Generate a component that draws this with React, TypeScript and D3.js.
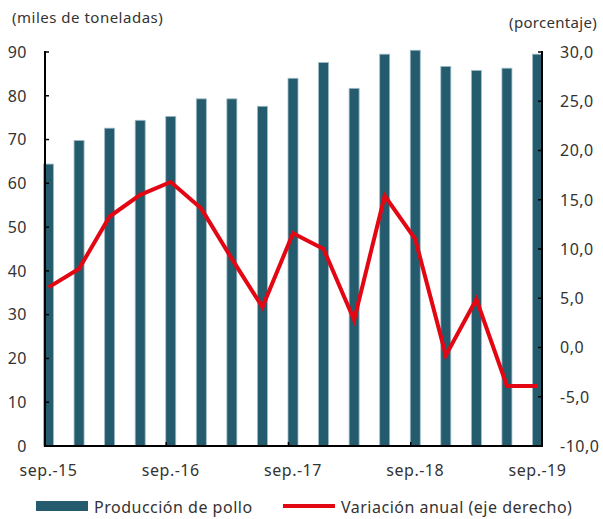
import React from "react";
import * as d3 from "d3";

const categories = ["sep.-15","dic.-15","mar.-16","jun.-16","sep.-16","dic.-16","mar.-17","jun.-17","sep.-17","dic.-17","mar.-18","jun.-18","sep.-18","dic.-18","mar.-19","jun.-19","sep.-19"];
const produccion = [64.4, 69.8, 72.6, 74.4, 75.3, 79.3, 79.3, 77.6, 84.0, 87.6, 81.7, 89.5, 90.4, 86.7, 85.8, 86.3, 89.5];
const variacion = [6.1, 8.0, 13.3, 15.5, 16.8, 14.1, 9.0, 4.1, 11.6, 10.0, 2.8, 15.4, 11.0, -0.8, 4.9, -3.9, -3.9];
const leftTicks = [0, 10, 20, 30, 40, 50, 60, 70, 80, 90];
const rightTicks = [-10, -5, 0, 5, 10, 15, 20, 25, 30];
const xLabelIdx = [0, 4, 8, 12, 16];

const W = 603, H = 519;
const axL = 45, axR = 542, yTop = 52, yBot = 446;
const BAR = "#245c6e";
const RED = "#e30613";
const TXT = "#333333";
const FONT = "'Noto Sans', sans-serif";

export default function App() {
  const x = d3.scalePoint<number>().domain(d3.range(categories.length)).range([48.5, 537.5]);
  const yL = d3.scaleLinear().domain([0, 90]).range([yBot, yTop]);
  const yR = d3.scaleLinear().domain([-10, 30]).range([yBot, yTop]);
  const bw = 10;
  const line = d3.line<number>().x((_, i) => x(i)!).y((d) => yR(d));

  return (
    <svg width={W} height={H} style={{ position: "absolute", left: 0, top: 0, background: "#fff" }} fontFamily={FONT}>
      <rect width={W} height={H} fill="#fff" />
      {produccion.map((v, i) => (
        <rect key={i} x={x(i)! - bw / 2} y={yL(v)} width={bw} height={yBot - yL(v)} fill={BAR} stroke="#9fbcc7" strokeWidth={0.8} />
      ))}
      <path d={line(variacion) || ""} fill="none" stroke={RED} strokeWidth={4} strokeLinejoin="miter" />
      {/* axes */}
      <line x1={axL} x2={axL} y1={yTop - 1} y2={yBot + 1} stroke="#000" strokeWidth={2} />
      <line x1={axR} x2={axR} y1={yTop - 1} y2={yBot + 1} stroke="#000" strokeWidth={2} />
      <line x1={axL - 1} x2={axR + 1} y1={yBot} y2={yBot} stroke="#000" strokeWidth={2} />
      {leftTicks.map((t) => (
        <g key={"l" + t}>
          <line x1={axL} x2={axL + 4} y1={yL(t)} y2={yL(t)} stroke="#000" strokeWidth={1.5} />
          <text x={27} y={yL(t)} dy="0.36em" textAnchor="end" fontSize={16} fill={TXT} letterSpacing={0.5}>{t}</text>
        </g>
      ))}
      {rightTicks.map((t) => (
        <g key={"r" + t}>
          <line x1={axR - 4} x2={axR} y1={yR(t)} y2={yR(t)} stroke="#000" strokeWidth={1.5} />
          <text x={560} y={yR(t)} dy="0.36em" textAnchor="start" fontSize={16} fill={TXT} letterSpacing={0.5}>{t.toFixed(1).replace(".", ",")}</text>
        </g>
      ))}
      {xLabelIdx.map((i) => (
        <g key={"x" + i}>
          {i > 0 && i < categories.length - 1 && (
            <line x1={x(i)! - 4.5} x2={x(i)! - 4.5} y1={yBot} y2={yBot - 4} stroke="#000" strokeWidth={1.5} />
          )}
          <text x={x(i)!} y={476} textAnchor="middle" fontSize={16} fill={TXT} letterSpacing={0.5}>{categories[i]}</text>
        </g>
      ))}
      <text x={12} y={23} fontSize={15} fill={TXT} letterSpacing={0.5}>(miles de toneladas)</text>
      <text x={597} y={28} textAnchor="end" fontSize={15} fill={TXT} letterSpacing={0.3}>(porcentaje)</text>
      {/* legend */}
      <rect x={36} y={501} width={52} height={10} fill={BAR} />
      <text x={94} y={513} fontSize={16} fill={TXT} letterSpacing={0.5}>Producción de pollo</text>
      <line x1={283} x2={335} y1={506} y2={506} stroke={RED} strokeWidth={4} />
      <text x={341} y={513} fontSize={16} fill={TXT} letterSpacing={0.5}>Variación anual (eje derecho)</text>
    </svg>
  );
}
